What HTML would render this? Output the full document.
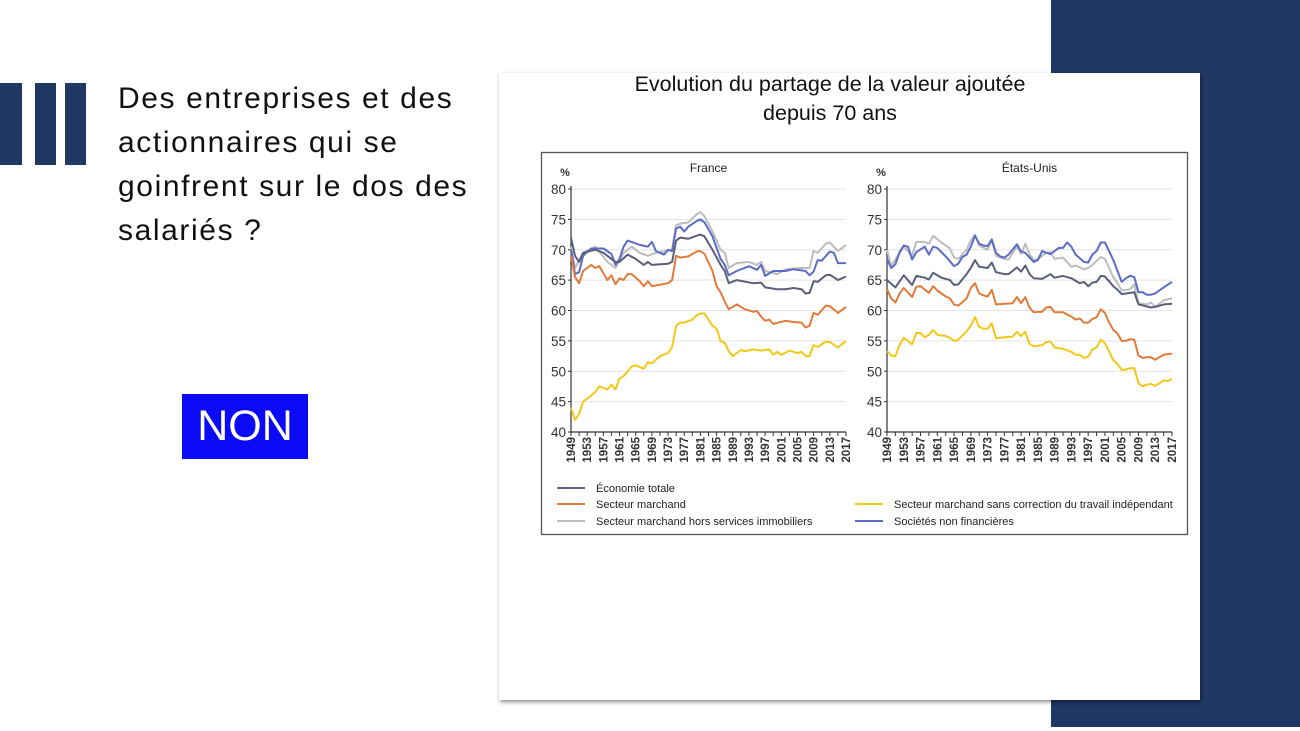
<!DOCTYPE html>
<html><head><meta charset="utf-8"><style>
body{margin:0;width:1300px;height:731px;overflow:hidden;background:#fff;position:relative;font-family:"Liberation Sans",sans-serif}
.abs{position:absolute}
</style></head><body>
<div class="abs" style="left:1051px;top:0;width:249px;height:727px;background:#1f3864"></div>
<div class="abs" style="left:0;top:83px;width:22px;height:82px;background:#1f3864"></div>
<div class="abs" style="left:35px;top:83px;width:21px;height:82px;background:#1f3864"></div>
<div class="abs" style="left:65px;top:83px;width:21px;height:82px;background:#1f3864"></div>
<div class="abs" style="left:118px;top:77px;font-size:30px;line-height:44px;color:#111;white-space:nowrap;letter-spacing:1.6px">Des entreprises et des<br>actionnaires qui se<br>goinfrent sur le dos des<br>salariés ?</div>
<div class="abs" style="left:182px;top:394px;width:126px;height:65px;background:#0a0af5;color:#fff;font-size:43px;line-height:65px;text-align:center">NON</div>
<div class="abs" style="left:499px;top:73px;width:701px;height:627px;background:#fff;box-shadow:1px 2px 4px rgba(0,0,0,.45)"></div>
<div class="abs" style="left:530px;top:70px;width:600px;text-align:center;font-size:21.5px;line-height:29px;color:#111">Evolution du partage de la valeur ajoutée<br>depuis 70 ans</div>
<svg class="abs" style="left:0;top:0" width="1300" height="731" id="s">
<rect x="541.5" y="152.5" width="646" height="382" fill="#fff" stroke="#555" stroke-width="1.3"/>
</svg>
<script>
var S=document.getElementById('s'),NS='http://www.w3.org/2000/svg';
function el(t,a,txt){var e=document.createElementNS(NS,t);for(var k in a)e.setAttribute(k,a[k]);if(txt!=null)e.textContent=txt;S.appendChild(e);return e}
function Y(v){return 189+(80-v)*6.075}
var C={eco:'#5a5f7a',snf:'#5b6bc6',gray:'#bdbdbd',or:'#e07b39',ye:'#f2c81a'};
var D={
F:{
gray:"1949:70.5 1950:67 1952:69.5 1955:70.5 1958:68 1960:67 1962:69.5 1964:70.5 1966:69.5 1968:69 1970:69.5 1974:70 1975:74 1976:74.3 1978:74.5 1980:75.8 1981:76.2 1982:75.5 1984:73 1986:70 1987:69.5 1988:67 1990:67.8 1993:68 1995:67.5 1996:68 1997:66.5 2000:66 2002:66.8 2006:67 2008:67 2009:69.8 2010:69.5 2012:71 2013:71.2 2015:69.8 2017:70.8",
snf:"1949:70 1950:66 1951:66.3 1952:69 1954:70.2 1957:70.2 1959:69.3 1960:67.5 1961:68.5 1962:70.5 1963:71.5 1966:70.8 1968:70.5 1969:71.3 1970:69.8 1972:69.2 1973:70 1974:69.8 1975:73.5 1976:73.8 1977:73 1978:73.8 1980:74.7 1981:75 1982:74.5 1984:72.2 1986:68.5 1987:67.5 1988:65.8 1990:66.5 1993:67.3 1995:66.7 1996:67.5 1997:65.7 1999:66.5 2002:66.5 2004:66.8 2007:66.5 2008:65.8 2009:66.4 2010:68.3 2011:68.2 2013:69.7 2014:69.5 2015:67.8 2017:67.8",
eco:"1949:72 1950:69 1951:68 1952:69.5 1955:70 1957:69.5 1959:68.5 1960:68 1961:68 1963:69.2 1965:68.5 1967:67.5 1968:68 1969:67.5 1973:67.7 1974:68 1975:71.5 1976:72 1978:71.8 1980:72.3 1981:72.5 1982:72.2 1984:70 1986:67.5 1987:66.5 1988:64.5 1990:65 1994:64.5 1996:64.6 1997:63.8 2000:63.5 2002:63.5 2004:63.7 2006:63.5 2007:62.8 2008:62.9 2009:64.8 2010:64.7 2012:65.8 2013:65.9 2015:65 2017:65.6",
or:"1949:69 1950:65.5 1951:64.5 1952:66.5 1954:67.5 1955:67 1956:67.3 1958:65 1959:65.8 1960:64.3 1961:65.3 1962:65 1963:66 1964:66 1966:64.8 1967:64 1968:64.8 1969:64 1973:64.5 1974:65 1975:69 1976:68.7 1978:68.9 1980:69.7 1981:69.8 1982:69.3 1984:66.5 1985:64 1986:63 1987:61.5 1988:60.2 1990:61 1992:60.2 1994:59.8 1995:59.9 1996:59 1997:58.3 1998:58.5 1999:57.8 2002:58.3 2004:58.1 2006:58 2007:57.2 2008:57.5 2009:59.6 2010:59.3 2012:60.8 2013:60.7 2015:59.6 2017:60.6",
ye:"1949:44 1950:42 1951:43 1952:45 1953:45.5 1954:46 1955:46.6 1956:47.5 1958:47 1959:47.8 1960:47 1961:48.8 1962:49.2 1964:50.8 1965:51 1967:50.4 1968:51.5 1969:51.3 1971:52.5 1973:53 1974:54 1975:57.5 1976:58 1977:58 1979:58.5 1980:59.2 1981:59.5 1982:59.5 1984:57.5 1985:57 1986:55 1987:54.7 1988:53.3 1989:52.5 1991:53.5 1992:53.3 1994:53.6 1996:53.4 1998:53.6 1999:52.7 2000:53.2 2001:52.7 2002:53 2003:53.4 2005:53 2006:53.2 2007:52.5 2008:52.5 2009:54.3 2010:54 2012:54.9 2013:54.8 2015:53.9 2017:55"},
U:{
gray:"1949:70 1950:67.3 1952:69.5 1953:70.5 1955:69 1956:71.3 1958:71.3 1959:71 1960:72.3 1962:71.2 1964:70.2 1965:68.7 1966:68.5 1968:70 1969:71.5 1970:72.5 1971:70.7 1973:70 1974:71.5 1975:69 1977:68.5 1978:68.4 1980:70.5 1981:69.3 1982:71 1983:69.3 1984:68.3 1985:68.5 1987:69.5 1988:69.6 1989:68.5 1991:68.7 1993:67.2 1994:67.4 1996:66.8 1997:67 1998:67.5 2000:68.8 2001:68.5 2002:67 2003:65.5 2004:64.5 2005:63.3 2007:63.5 2008:64.3 2009:61.2 2011:61 2012:61.3 2013:60.6 2015:61.7 2017:62",
snf:"1949:68.5 1950:67 1951:67.6 1952:69.6 1953:70.7 1954:70.5 1955:68.4 1956:69.6 1958:70.5 1959:69.2 1960:70.5 1961:70.3 1963:68.9 1965:67.3 1966:67.7 1967:68.8 1968:69.2 1969:70.5 1970:72.3 1971:71 1972:70.7 1973:70.6 1974:71.7 1975:69.5 1976:68.9 1977:68.7 1978:69.2 1980:70.9 1981:69.7 1982:69.5 1984:68 1985:68.3 1986:69.8 1987:69.5 1988:69.3 1990:70.3 1991:70.3 1992:71.2 1993:70.5 1994:69.2 1996:68 1997:67.9 1998:69.2 1999:69.8 2000:71.2 2001:71.2 2002:69.8 2003:68.3 2004:66.5 2005:64.7 2006:65.3 2007:65.7 2008:65.5 2009:63 2010:63 2011:62.6 2012:62.6 2013:62.8 2015:63.8 2017:64.7",
eco:"1949:65 1951:63.8 1953:65.8 1955:64.2 1956:65.7 1958:65.4 1959:65.1 1960:66.2 1962:65.4 1964:65 1965:64.2 1966:64.3 1968:66 1969:67 1970:68.3 1971:67.2 1973:67 1974:67.9 1975:66.3 1977:66 1978:66 1980:67.1 1981:66.4 1982:67.4 1983:66 1984:65.3 1986:65.2 1988:66 1989:65.4 1991:65.7 1993:65.3 1995:64.5 1996:64.7 1997:64 1998:64.6 1999:64.7 2000:65.7 2001:65.6 2002:64.8 2003:64 2004:63.4 2005:62.7 2007:62.9 2008:63 2009:61 2012:60.5 2013:60.6 2015:61 2017:61.1",
or:"1949:63.5 1950:62 1951:61.3 1952:62.8 1953:63.7 1955:62.2 1956:63.9 1957:64 1959:62.9 1960:64 1961:63.3 1963:62.3 1964:62 1965:61 1966:60.8 1968:62 1969:63.7 1970:64.5 1971:62.8 1972:62.5 1973:62.3 1974:63.4 1975:61 1979:61.2 1980:62.2 1981:61.2 1982:62.2 1983:60.5 1984:59.7 1986:59.8 1987:60.5 1988:60.6 1989:59.7 1991:59.7 1993:59 1994:58.5 1995:58.7 1996:58 1997:58 1998:58.6 1999:58.9 2000:60.2 2001:59.6 2002:58 2003:56.8 2004:56.2 2005:55 2006:55 2007:55.3 2008:55.2 2009:52.6 2010:52.2 2011:52.3 2012:52.3 2013:51.9 2014:52.3 2015:52.7 2017:52.9",
ye:"1949:53.3 1950:52.6 1951:52.5 1952:54.3 1953:55.5 1954:55 1955:54.4 1956:56.3 1957:56.3 1958:55.6 1959:56 1960:56.8 1961:56 1963:55.8 1964:55.5 1965:55 1966:55.2 1968:56.6 1969:57.5 1970:58.9 1971:57.3 1972:57 1973:57 1974:57.9 1975:55.4 1977:55.6 1979:55.7 1980:56.5 1981:55.8 1982:56.5 1983:54.5 1984:54.1 1986:54.3 1987:54.8 1988:54.9 1989:53.9 1991:53.7 1993:53.2 1994:52.7 1995:52.7 1996:52.2 1997:52.4 1998:53.6 1999:53.9 2000:55.2 2001:54.6 2002:53.3 2003:51.8 2004:51.2 2005:50.2 2006:50.3 2007:50.5 2008:50.5 2009:48 2010:47.5 2011:47.8 2012:47.9 2013:47.6 2014:48 2015:48.5 2016:48.4 2017:48.7"}};
function panel(x0,x1,title,d){
  var X=function(y){return x0+(y-1949)*(x1-x0)/68};
  for(var v=40;v<=80;v+=5){
    if(v>40)el('line',{x1:x0,x2:x1,y1:Y(v),y2:Y(v),stroke:'#e3e3e3','stroke-width':1});
    el('text',{x:x0-5,y:Y(v)+5,'text-anchor':'end','font-size':13.5,fill:'#333','font-family':'Liberation Sans'},v);
    el('line',{x1:x0-3,x2:x0,y1:Y(v),y2:Y(v),stroke:'#333'});
  }
  el('line',{x1:x0,x2:x0,y1:Y(80)-3,y2:Y(40),stroke:'#333','stroke-width':1.2});
  el('line',{x1:x0,x2:x1,y1:Y(40),y2:Y(40),stroke:'#333','stroke-width':1.2});
  for(var y=1949;y<=2017;y+=2)el('line',{x1:X(y),x2:X(y),y1:Y(40),y2:Y(40)+4,stroke:'#333'});
  for(var y=1949;y<=2017;y+=4){el('text',{x:0,y:0,'text-anchor':'end','font-size':11.5,fill:'#333','font-weight':'bold','font-family':'Liberation Sans',transform:'translate('+(X(y)+4)+','+(Y(40)+5)+') rotate(-90)'},y);}
  el('text',{x:x0-6,y:176,'text-anchor':'middle','font-size':11,fill:'#333','font-weight':'bold'},'%');
  el('text',{x:(x0+x1)/2,y:172,'text-anchor':'middle','font-size':12,fill:'#222'},title);
  ['gray','snf','eco','or','ye'].forEach(function(k){
    var p=d[k].split(' ').map(function(s){var a=s.split(':');return X(+a[0]).toFixed(1)+','+Y(+a[1]).toFixed(1)}).join(' ');
    el('polyline',{points:p,fill:'none',stroke:C[k],'stroke-width':2,'stroke-linejoin':'round'});
  });
}
panel(571,846,'France',D.F);
panel(887,1172,'États-Unis',D.U);
var L=[[557,488,'eco','Économie totale'],[557,504,'or','Secteur marchand'],[557,521,'gray','Secteur marchand hors services immobiliers'],[855,504,'ye','Secteur marchand sans correction du travail indépendant'],[855,521,'snf','Sociétés non financières']];
L.forEach(function(l){el('line',{x1:l[0],x2:l[0]+28,y1:l[1],y2:l[1],stroke:C[l[2]],'stroke-width':2});
el('text',{x:l[0]+39,y:l[1]+4,'font-size':11,fill:'#222'},l[3]);});
</script>
</body></html>
